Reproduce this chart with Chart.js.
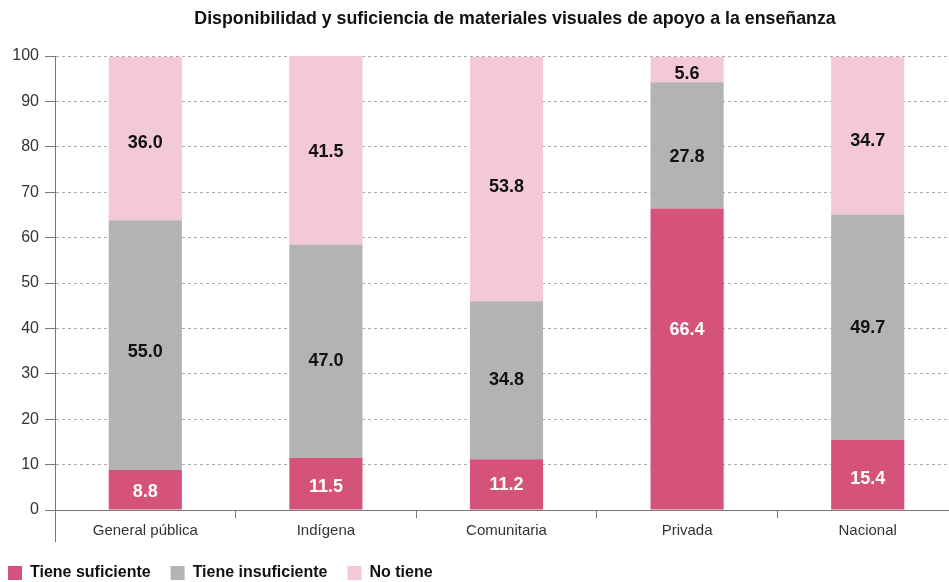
<!DOCTYPE html>
<html>
<head>
<meta charset="utf-8">
<script src="https://cdn.jsdelivr.net/npm/chart.js@4/dist/chart.umd.min.js"></script>
<style>
	html, body { margin: 0; padding: 0; overflow: hidden; background: #fff; }
	#box { position: relative; width: 958px; height: 582px; }
</style>
</head>
<body>
<div id="box"><canvas id="plot"></canvas></div>
<script>
const title = 'Disponibilidad y suficiencia de materiales visuales de apoyo a la enseñanza';
const categories = ['General pública', 'Indígena', 'Comunitaria', 'Privada', 'Nacional'];
const series = ['Tiene suficiente', 'Tiene insuficiente', 'No tiene'];
const suficiente = [8.8, 11.5, 11.2, 66.4, 15.4];
const insuficiente = [55.0, 47.0, 34.8, 27.8, 49.7];
const noTiene = [36.0, 41.5, 53.8, 5.6, 34.7];
const yTicks = [0, 10, 20, 30, 40, 50, 60, 70, 80, 90, 100];

const colors = ['#d5527a', '#b3b3b3', '#f2c9d4'];
const labelColors = ['#ffffff', '#111111', '#111111'];
const font = '"Liberation Sans", Arial, Helvetica, sans-serif';

// small vertical nudges (px) of the value labels, as placed in the original
const labelNudge =
[
	[1, 2, 0, -30, 3],
	[6, 9, -1, 11, 0],
	[3, 1, 7, 3, 4]
];

// numbers in the middle of each segment
const valueLabels =
{
	id: 'valueLabels',
	afterDatasetsDraw(chart)
	{
		const ctx = chart.ctx;
		ctx.save();
		ctx.font = 'bold 18px ' + font;
		ctx.textAlign = 'center';
		ctx.textBaseline = 'middle';

		chart.data.datasets.forEach(function(ds, i)
		{
			const meta = chart.getDatasetMeta(i);
			meta.data.forEach(function(bar, j)
			{
				ctx.fillStyle = labelColors[i];
				ctx.fillText(ds.data[j].toFixed(1), bar.x, (bar.y + bar.base) / 2 + 1 + labelNudge[i][j]);
			});
		});

		ctx.restore();
	}
};

// title over the plot, y axis line running down past the labels, legend nudged into place
const decor =
{
	id: 'decor',
	afterLayout(chart)
	{
		chart.legend.left -= 12;
		chart.legend.top = 545;
	},
	afterDraw(chart)
	{
		const ctx = chart.ctx;
		const area = chart.chartArea;

		ctx.save();
		ctx.strokeStyle = '#777';
		ctx.lineWidth = 1;
		ctx.beginPath();
		ctx.moveTo(area.left + 0.5, area.bottom);
		ctx.lineTo(area.left + 0.5, area.bottom + 32);
		ctx.stroke();

		ctx.font = 'bold 17.8px ' + font;
		ctx.fillStyle = '#111';
		ctx.textAlign = 'center';
		ctx.textBaseline = 'middle';
		ctx.fillText(title, 515, 19);
		ctx.restore();
	}
};

const data =
{
	labels: categories,
	datasets:
	[
		{ label: series[0], data: suficiente, backgroundColor: colors[0] },
		{ label: series[1], data: insuficiente, backgroundColor: colors[1] },
		{ label: series[2], data: noTiene, backgroundColor: colors[2] }
	]
};

const config =
{
	type: 'bar',
	data: data,
	plugins: [valueLabels, decor],
	options:
	{
		responsive: true,
		maintainAspectRatio: false,
		animation: false,
		layout: { padding: { top: 56, left: 0, right: 0, bottom: -14 } },
		datasets: { bar: { categoryPercentage: 1, barPercentage: 0.405 } },
		plugins:
		{
			title: { display: false },
			tooltip: { enabled: false },
			legend:
			{
				position: 'bottom',
				align: 'start',
				labels:
				{
					boxWidth: 14,
					boxHeight: 14,
					padding: 20,
					color: '#111',
					font: { family: font, size: 16, weight: 'bold' }
				}
			}
		},
		scales:
		{
			x:
			{
				stacked: true,
				offset: true,
				afterFit: function(s) { s.height = 40; },
				grid: { offset: true, drawOnChartArea: false, tickLength: 8, color: '#777' },
				border: { color: '#777' },
				ticks: { color: '#333', padding: 4, font: { family: font, size: 15 } }
			},
			y:
			{
				stacked: true,
				min: 0,
				max: 100,
				afterFit: function(s) { s.width = 55; },
				afterBuildTicks: function(s) { s.ticks = yTicks.map(function(v) { return { value: v }; }); },
				grid: { color: '#aaa', tickLength: 10, tickColor: '#777', tickBorderDash: [] },
				border: { color: '#777', dash: [3, 3] },
				ticks: { color: '#333', padding: 6, font: { family: font, size: 16 } }
			}
		}
	}
};

const ctx = document.getElementById('plot').getContext('2d');
const plot = new Chart(ctx, config);
</script>
</body>
</html>
